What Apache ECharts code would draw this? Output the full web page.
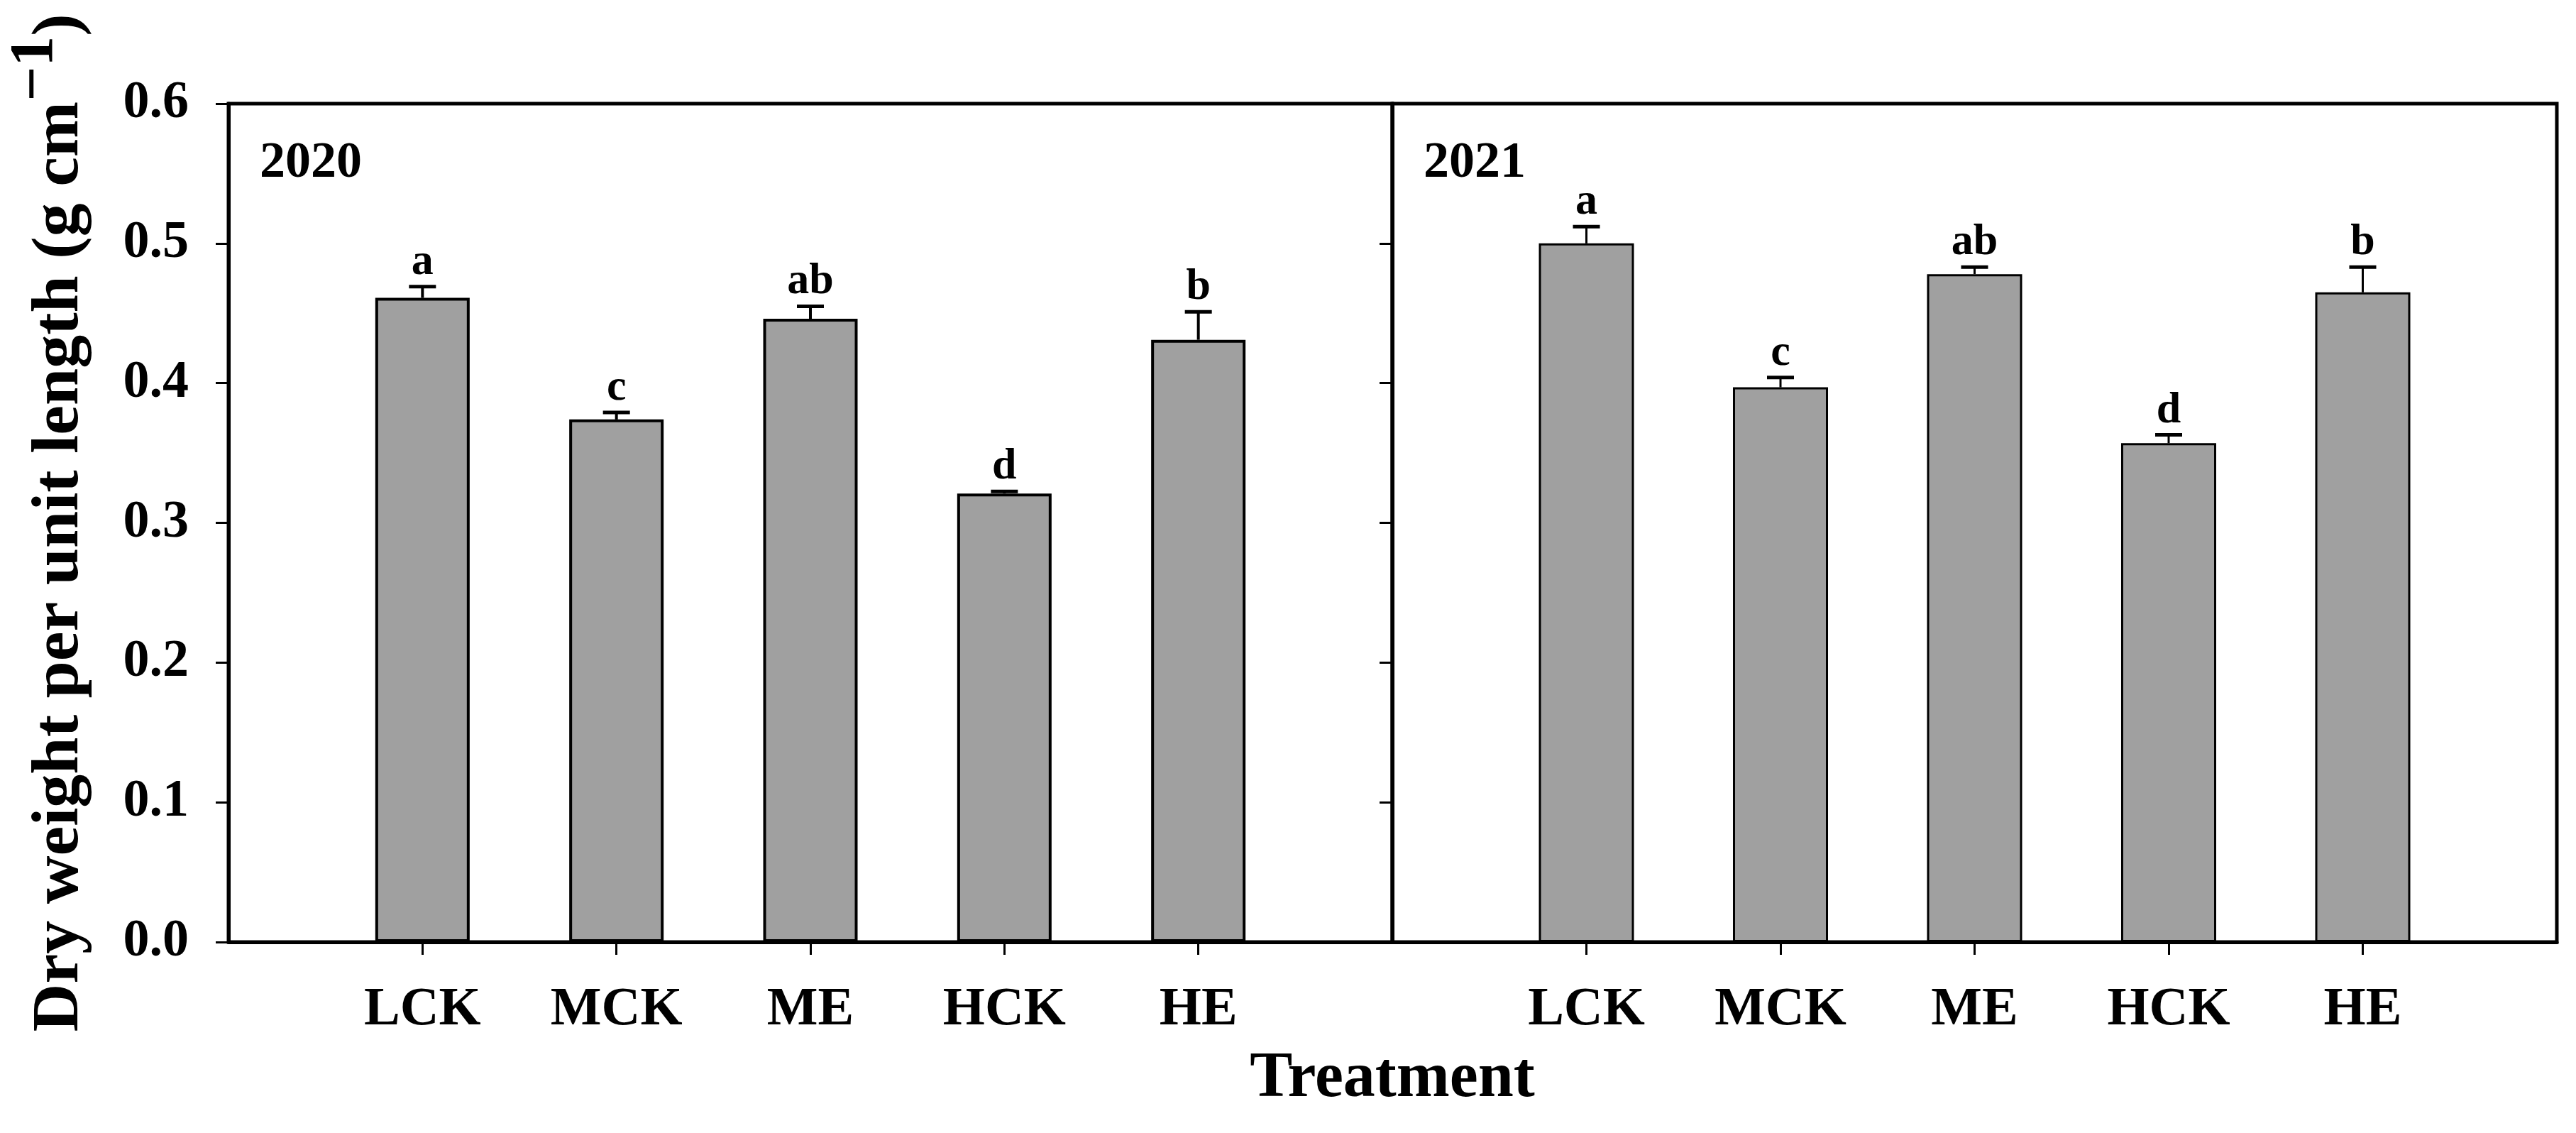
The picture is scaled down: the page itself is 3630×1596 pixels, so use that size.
<!DOCTYPE html>
<html>
<head>
<meta charset="utf-8">
<script src="https://cdn.jsdelivr.net/npm/echarts@6/dist/echarts.min.js"></script>
<style>
html,body{margin:0;padding:0;background:#fff;}
#c{width:3630px;height:1596px;}
</style>
</head>
<body>
<div id="c"></div>
<script>
// ---- data ----
const categories = ['LCK', 'MCK', 'ME', 'HCK', 'HE'];
const mean2020 = [0.461, 0.374, 0.446, 0.321, 0.431];
const se2020 = [0.008, 0.005, 0.009, 0.0015, 0.020];
const letters2020 = ['a', 'c', 'ab', 'd', 'b'];
const mean2021 = [0.500, 0.397, 0.478, 0.357, 0.465];
const se2021 = [0.012, 0.007, 0.005, 0.006, 0.018];
const letters2021 = ['a', 'c', 'ab', 'd', 'b'];
const panelYears = ['2020', '2021'];
const yTickLabels = ['0.0', '0.1', '0.2', '0.3', '0.4', '0.5', '0.6'];
const yTitle = 'Dry weight per unit length (g cm';
const yTitleSup = '\u22121';
const xTitle = 'Treatment';

const FONT = '"Liberation Serif", "Times New Roman", serif';
const catPos = categories.map((c, i) => i + 1);

const chart = echarts.init(document.getElementById('c'), null, {renderer: 'canvas'});

function barData(mean) { return categories.map((c, i) => [i + 1, mean[i]]); }
function errData(mean, se) { return categories.map((c, i) => [i + 1, mean[i], se[i]]); }

function makeErr(letters, lw) {
  return function (params, api) {
    const x = api.value(0), m = api.value(1), e = api.value(2);
    const p0 = api.coord([x, m]);
    const p1 = api.coord([x, m + e]);
    return {
      type: 'group',
      children: [
        {type: 'line', shape: {x1: p0[0], y1: p0[1], x2: p1[0], y2: p1[1]}, style: {stroke: '#000', lineWidth: lw}},
        {type: 'line', shape: {x1: p1[0] - 19, y1: p1[1], x2: p1[0] + 19, y2: p1[1]}, style: {stroke: '#000', lineWidth: 5}},
        {type: 'text', x: p1[0], y: p1[1] - 3, style: {text: letters[params.dataIndex], align: 'center', verticalAlign: 'bottom', fontSize: 62, fontFamily: FONT, fontWeight: 'bold', fill: '#000'}}
      ]
    };
  };
}

function xAxisCfg(gi) {
  return {
    type: 'value', gridIndex: gi, min: 0, max: 6,
    axisLine: {show: true, onZero: false, lineStyle: {color: '#000', width: 5}},
    axisTick: {show: true, customValues: catPos, length: 18, inside: false, lineStyle: {color: '#000', width: 3}},
    axisLabel: {show: true, customValues: catPos, margin: 58, formatter: v => categories[Math.round(v) - 1] || '',
      fontSize: 76, fontFamily: FONT, fontWeight: 'bold', color: '#000'},
    splitLine: {show: false}
  };
}

function yAxisCfg(gi, withLabels) {
  const cfg = {
    type: 'value', gridIndex: gi, min: 0, max: 0.6, interval: 0.1,
    axisLine: {show: true, lineStyle: {color: '#000', width: 5}},
    axisTick: {show: true, length: 18, inside: false, lineStyle: {color: '#000', width: 3}},
    axisLabel: {show: withLabels, margin: 56, formatter: v => yTickLabels[Math.round(v * 10)],
      fontSize: 74, fontFamily: FONT, fontWeight: 'bold', color: '#000'},
    splitLine: {show: false}
  };
  if (withLabels) {
    cfg.name = '{t|' + yTitle + '}{s|' + yTitleSup + '}{t|)}';
    cfg.nameLocation = 'middle';
    cfg.nameGap = 190;
    cfg.nameRotate = 90;
    cfg.nameTextStyle = {
      fontFamily: FONT, fontWeight: 'bold', fontSize: 94, color: '#000',
      rich: {
        t: {fontFamily: FONT, fontWeight: 'bold', fontSize: 94, color: '#000', lineHeight: 124, verticalAlign: 'bottom'},
        s: {fontFamily: FONT, fontWeight: 'bold', fontSize: 86, color: '#000', lineHeight: 124, verticalAlign: 'top'}
      }
    };
  }
  return cfg;
}

const option = {
  backgroundColor: '#fff',
  animation: false,
  grid: [
    {left: 322, width: 1640, top: 146, height: 1181, containLabel: false, outerBoundsMode: 'none',
      show: true, borderColor: '#000', borderWidth: 5, backgroundColor: 'transparent'},
    {left: 1962, width: 1641, top: 146, height: 1181, containLabel: false, outerBoundsMode: 'none',
      show: true, borderColor: '#000', borderWidth: 5, backgroundColor: 'transparent'}
  ],
  xAxis: [xAxisCfg(0), xAxisCfg(1)],
  yAxis: [yAxisCfg(0, true), yAxisCfg(1, false)],
  graphic: [
    {type: 'text', x: 366, y: 194, style: {text: panelYears[0], fontSize: 72, fontFamily: FONT, fontWeight: 'bold', fill: '#000', verticalAlign: 'top', align: 'left'}},
    {type: 'text', x: 2006, y: 194, style: {text: panelYears[1], fontSize: 72, fontFamily: FONT, fontWeight: 'bold', fill: '#000', verticalAlign: 'top', align: 'left'}},
    {type: 'text', x: 1962, y: 1521, style: {text: xTitle, fontSize: 90, fontFamily: FONT, fontWeight: 'bold', fill: '#000', verticalAlign: 'middle', align: 'center'}}
  ],
  series: [
    {type: 'bar', xAxisIndex: 0, yAxisIndex: 0, data: barData(mean2020), barWidth: 133,
      itemStyle: {color: '#a0a0a0', borderColor: '#000', borderWidth: 4}},
    {type: 'bar', xAxisIndex: 1, yAxisIndex: 1, data: barData(mean2021), barWidth: 134,
      itemStyle: {color: '#a0a0a0', borderColor: '#000', borderWidth: 3}},
    {type: 'custom', xAxisIndex: 0, yAxisIndex: 0, data: errData(mean2020, se2020), renderItem: makeErr(letters2020, 4), z: 5, clip: false},
    {type: 'custom', xAxisIndex: 1, yAxisIndex: 1, data: errData(mean2021, se2021), renderItem: makeErr(letters2021, 3), z: 5, clip: false}
  ]
};
chart.setOption(option);
</script>
</body>
</html>
